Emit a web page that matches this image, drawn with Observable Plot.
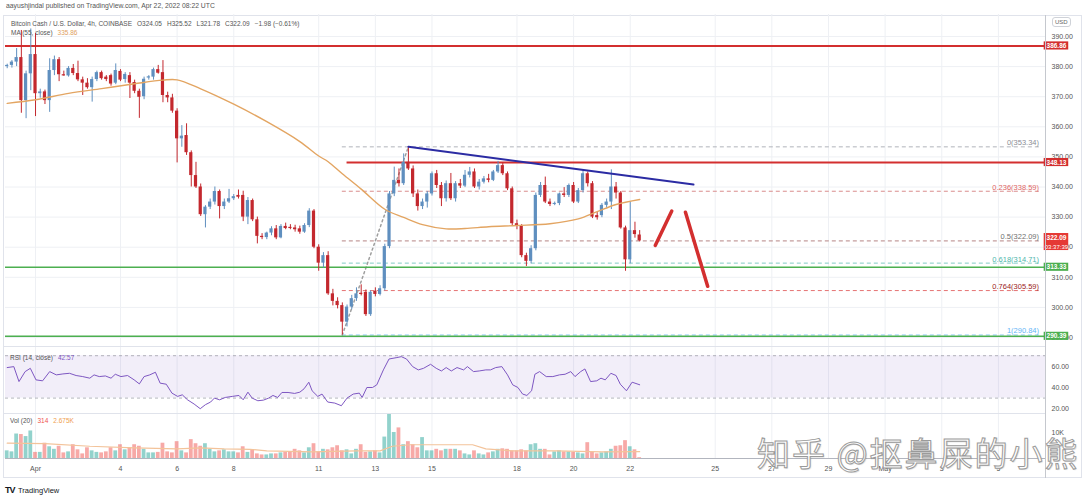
<!DOCTYPE html>
<html><head><meta charset="utf-8">
<script src="https://cdn.jsdelivr.net/npm/d3@7"></script>
<script src="https://cdn.jsdelivr.net/npm/@observablehq/plot@0.6"></script>
<style>
html,body{margin:0;padding:0;background:#fff;}
#wrap{position:relative;width:1085px;height:500px;overflow:hidden;font-family:"Liberation Sans",Arial,sans-serif;color:#555;}
.abs{position:absolute;white-space:nowrap;line-height:1;}
.pane{position:absolute;left:0;}
.lg{font-size:6.5px;}
.lg span{margin-left:5px;}
.lg span:first-child{margin-left:0;}
</style></head><body>
<div id="wrap">
 <div class="abs" style="left:6px;top:3px;font-size:6.8px;color:#555">aayushjindal published on TradingView.com, Apr 22, 2022 08:22 UTC</div>
 <div class="abs" style="left:3px;top:15px;width:1079px;height:463px;border:1px solid #e0e3eb;box-sizing:border-box"></div>
 <div id="price" class="pane" style="top:14px"></div>
 <div id="rsi" class="pane" style="top:346px"></div>
 <div id="vol" class="pane" style="top:413px"></div>
 <div class="abs" style="left:3px;top:346px;width:1042px;height:1px;background:#e0e3eb"></div>
 <div class="abs" style="left:3px;top:413px;width:1042px;height:1px;background:#e0e3eb"></div>
 <div class="abs" style="left:1045px;top:15px;width:1px;height:463px;background:#c5c8ce"></div>
 <div class="abs" style="left:1052px;top:17px;font-size:6px;color:#666;border:1px solid #cfd2d8;border-radius:3px;padding:1px 2px">USD</div>

 <div class="abs lg" style="left:11px;top:21px"><span>Bitcoin Cash / U.S. Dollar, 4h, COINBASE</span><span>O324.05</span><span>H325.52</span><span>L321.78</span><span>C322.09</span><span>−1.98 (−0.61%)</span></div>
 <div class="abs lg" style="left:11px;top:30px"><span>MA (55, close)</span><span style="color:#e0a060">335.86</span></div>

 <div class="abs lg" style="left:10px;top:355px"><span>RSI (14, close)</span><span style="color:#7e57c2">42.57</span></div>
 <div class="abs lg" style="left:10px;top:418px"><span>Vol (20)</span><span style="color:#ef5350">314</span><span style="color:#f0a050">2.675K</span></div>

 <div class="abs" style="left:757px;top:436px;font-family:'Noto Sans CJK SC',sans-serif;font-size:33px;letter-spacing:2px;color:#fff;-webkit-text-stroke:1px #9a9a9a;text-shadow:1px 1px 1px rgba(0,0,0,0.15)">知乎 @抠鼻屎的小熊</div>

 <div class="abs" style="left:5px;top:486px;font-size:9px;font-weight:bold;color:#131722;letter-spacing:-1px">TV</div>
 <div class="abs" style="left:18px;top:487px;font-size:7.5px;color:#131722">TradingView</div>
</div>
<script>
// ---- data (4h candles, index 0 = Mar 31 00:00 UTC) ----
const openP = [380.0,380.4,381.5,383.0,368.7,377.6,384.0,371.0,371.6,368.7,
378.7,382.3,377.3,376.9,379.4,377.7,375.6,374.5,373.0,375.7,
378.0,376.5,377.0,374.5,378.4,375.7,377.0,374.7,371.8,370.0,
376.2,376.5,379.0,378.0,370.4,369.6,365.2,356.0,357.1,351.4,
343.8,340.0,330.8,333.3,335.0,338.5,333.5,335.0,336.1,337.2,
337.2,330.0,335.5,329.1,323.6,323.2,324.7,326.1,323.1,326.9,
326.6,326.4,326.1,325.0,327.2,332.0,320.0,314.7,317.2,304.5,
302.0,300.6,295.1,300.1,302.9,304.7,305.0,297.6,305.4,304.3,
306.2,320.2,337.7,342.2,341.1,348.2,346.0,337.7,333.5,335.0,
337.7,344.4,340.5,336.1,341.1,336.1,341.1,340.3,343.9,345.0,
340.0,341.6,342.7,342.2,345.0,347.1,344.4,339.4,327.8,326.9,
317.2,315.3,319.5,337.2,340.5,335.0,334.2,334.5,337.7,337.2,
340.5,335.0,338.8,344.4,341.1,330.5,330.5,333.9,335.0,340.0,
338.0,326.4,315.8,325.5,324.05];
const highP = [380.8,382.0,386.0,392.0,378.5,392.5,391.0,372.5,372.2,382.6,
383.5,383.0,378.5,380.0,380.7,381.8,376.5,376.0,376.5,378.5,
378.5,377.0,377.5,380.9,379.0,378.0,378.0,375.5,372.5,376.5,
377.0,379.5,380.4,382.0,371.5,370.8,366.0,360.4,361.0,352.0,
348.2,341.0,333.8,336.0,340.0,339.0,336.0,339.2,337.5,339.0,
338.6,336.5,336.0,330.0,324.5,325.0,326.8,327.2,327.5,328.0,
327.5,327.3,327.0,327.8,332.8,332.5,320.8,318.2,318.5,306.0,
303.2,301.5,300.8,304.0,306.5,307.5,305.8,305.5,306.5,307.2,
321.0,338.5,346.6,346.0,351.0,353.34,347.0,339.0,336.0,338.5,
345.0,345.5,341.5,342.0,344.5,341.8,342.5,345.5,346.5,346.0,
342.5,343.5,344.2,345.5,348.5,348.0,345.0,340.0,329.0,327.5,
318.0,320.5,338.0,341.5,343.3,336.0,335.0,338.0,339.8,341.0,
341.5,339.5,345.5,345.0,341.8,331.5,334.5,336.0,345.7,341.5,
338.5,327.0,335.0,328.3,325.52];
const lowP = [379.3,379.5,380.0,364.5,362.7,372.0,363.4,369.5,367.4,364.8,
377.0,375.0,376.8,376.5,377.0,375.0,370.4,372.5,368.2,375.0,
375.5,375.0,373.5,374.0,375.0,374.5,369.4,371.0,362.8,369.0,
375.5,375.5,377.5,368.0,368.0,364.5,348.0,353.2,350.5,340.0,
339.5,330.2,326.4,332.5,334.0,329.4,332.5,334.5,335.5,336.0,
328.5,327.5,328.5,321.1,322.5,322.5,323.8,322.5,322.8,325.8,
325.8,325.0,324.3,324.6,326.5,319.5,312.0,313.0,304.0,300.5,
299.5,290.84,293.5,299.2,302.0,303.8,297.0,297.0,303.5,303.8,
305.5,319.5,336.8,340.0,340.5,345.5,336.5,332.0,332.5,333.0,
337.0,339.5,333.5,335.0,335.5,335.0,339.5,339.8,343.0,339.5,
339.0,341.0,341.4,341.8,344.5,343.8,338.8,327.0,325.8,316.5,
313.6,314.5,318.8,336.5,334.5,333.5,333.8,333.8,336.5,336.5,
334.5,334.5,338.0,340.0,329.5,329.0,329.8,333.0,332.5,336.0,
326.0,312.0,314.5,323.0,321.78];
const closeP = [380.4,381.5,383.0,368.7,377.6,384.0,371.0,371.6,368.7,378.7,
382.3,377.3,376.9,379.4,377.7,375.6,374.5,373.0,375.7,378.0,
376.0,375.7,374.2,378.7,375.5,377.4,374.5,371.8,369.8,375.8,
376.6,379.0,377.8,370.4,369.6,365.2,356.0,356.9,351.4,343.8,
340.0,330.8,333.3,335.0,338.5,333.5,335.0,336.1,336.8,336.6,
330.0,335.5,329.1,323.6,323.2,324.7,326.1,323.1,326.9,326.2,
326.2,325.8,325.0,327.2,332.0,320.0,314.7,317.2,304.5,302.0,
300.6,295.1,300.1,302.9,304.5,304.3,297.6,305.0,304.3,306.2,
320.2,337.7,342.2,341.1,348.2,346.0,337.7,333.5,335.0,337.7,
344.4,340.5,336.1,341.1,336.1,341.1,340.3,343.9,345.0,340.0,
341.6,342.7,342.2,345.0,347.1,344.4,339.4,327.8,326.9,317.2,
315.3,319.5,337.2,340.5,335.0,334.2,334.5,337.7,337.2,340.5,
335.0,338.8,344.4,341.1,330.0,329.8,333.9,335.0,340.0,338.0,
326.4,315.8,325.5,324.2,322.09];
const volK = [3.0,2.6,9.6,9.4,8.6,10.8,2.4,2.4,6.0,4.6,
3.6,4.8,2.2,2.6,5.4,3.4,1.8,4.2,3.0,2.4,
2.2,2.6,4.2,3.0,5.4,3.4,4.2,5.4,4.8,3.6,
2.2,2.2,2.4,6.0,2.6,2.2,6.6,3.0,2.2,7.4,
5.8,4.8,5.8,3.6,2.6,3.0,3.4,2.6,2.6,2.2,
4.6,2.4,3.4,1.8,1.4,1.4,1.8,1.8,
2.2,2.4,2.4,3.6,3.0,2.2,4.2,5.8,2.6,3.6,
3.4,4.2,5.0,3.0,3.4,1.8,3.6,5.4,2.4,2.6,
3.0,2.2,8.4,17.4,10.2,12.0,5.4,6.6,5.4,4.2,
8.2,3.0,3.0,3.6,3.0,3.6,3.6,3.6,3.0,1.8,
1.4,3.0,1.8,1.4,2.2,2.6,3.6,3.8,
3.6,3.0,3.0,3.4,3.0,5.4,5.8,3.6,3.6,1.4,
2.6,3.0,2.6,2.6,2.4,2.2,1.8,6.2,2.4,
1.8,2.2,2.6,3.6,4.8,5.0,7.0,4.6,3.4,0.314];

const maIdx = [0,6,13,20,27,33,36,41,48,55,62,66,68,71,75,80,84,88,93,97,102,108,115,121,125,129,134];
const maVal = [367.8,369.0,371.1,372.7,374.3,375.5,375.6,372.6,367.5,361.7,355.1,350.3,348.4,344.4,339.3,332.6,329.9,327.5,326.1,326.2,326.8,327.2,327.8,329.4,331.8,334.2,335.86];

const rsiIdx = [0,1.4,2.5,3.8,4.9,6.1,7.5,9.0,10.4,11.8,13.2,14.6,16.0,17.5,18.4,19.5,20.8,22.0,22.9,24.1,
25.5,26.9,28.0,29.0,30.2,31.4,32.4,33.7,34.9,36.1,37.1,38.2,39.6,40.9,42.0,43.1,43.9,45.0,46.2,47.7,
49.1,50.0,51.0,51.9,53.1,54.3,55.4,56.3,57.3,58.2,59.5,60.9,62.0,62.9,63.9,64.6,65.8,66.7,67.9,69.4,
70.8,72.0,73.3,74.6,75.2,76.2,77.4,78.3,79.7,80.9,82.4,83.5,84.6,85.9,87.1,88.2,89.7,90.9,92.0,93.0,
94.1,95.3,96.7,97.5,98.8,100.0,101.4,102.4,103.5,104.8,106.0,107.1,108.2,109.2,110.1,111.1,111.8,112.8,114.2,115.6,
117.0,118.2,119.4,120.3,121.5,122.4,123.6,124.9,125.8,126.7,127.9,129.0,129.9,131.2,132.4,134.0];
const rsiVal = [58.8,59.7,45.6,55.0,58.1,47.2,46.3,55.0,51.9,52.8,53.4,51.3,50.3,48.8,51.9,50.3,50.9,48.8,52.5,50.3,
51.3,47.2,43.4,50.3,51.9,54.4,44.1,43.1,34.7,31.6,33.1,28.4,24.4,20.0,23.8,26.3,30.0,28.4,30.6,31.6,
32.5,28.4,35.6,30.0,27.5,28.1,30.0,32.5,30.6,35.3,35.3,34.4,35.6,38.8,45.0,36.9,31.6,33.8,26.3,25.3,
22.8,30.0,33.8,34.7,30.6,40.0,40.0,42.5,56.6,66.9,68.1,69.1,66.9,59.7,56.6,58.1,61.9,58.1,55.6,58.8,
55.6,58.8,56.6,59.7,55.0,55.6,56.6,56.6,58.8,59.7,51.9,42.5,40.0,33.8,32.5,36.9,52.5,55.0,50.3,50.3,
51.9,52.5,55.0,50.3,55.0,57.5,45.6,46.3,48.8,47.2,53.4,51.3,43.1,36.9,45.0,42.57];

const vmaIdx = [0,8,17.5,27,36,41,46,51.5,55,64.6,74,79,81.6,85.4,93,98.6,101.4,107,116.5,126,134];
const vmaVal = [6.0,5.8,4.8,4.2,3.8,4.2,3.8,3.6,3.0,2.6,3.0,3.0,4.8,5.4,5.4,5.4,3.8,3.0,3.0,2.6,2.675];

const tickDays = [1,4,6,8,11,13,15,18,20,22,25,27,29,31,33,35];
const tickLabels = ["Apr","4","6","8","11","13","15","18","20","22","25","27","29","May","3","5"];
const priceTicks = [290,300,310,320,330,340,350,360,370,380,390];

const fibRatio = [0,0.236,0.5,0.618,0.764,1];
const fibValue = [353.34,338.59,322.09,314.71,305.59,290.84];
const fibLineColor = ["#b0b3ba","#d98c8c","#b58585","#80cbc4","#e57373","#90caf9"];
const fibTextColor = ["#8a8d94","#e06666","#6f6f6f","#4db6ac","#9b1c1c","#64b5f6"];
const fibSwingIdx = [71,85];
const fibSwingVal = [290.84,353.34];

const levelValue = [386.86,348.13,313.33,290.39];
const levelColor = ["#d32f2f","#d32f2f","#4caf50","#4caf50"];
const levelFromIdx = [null,72,null,null];
const lastPrice = 322.09;
const lastCountdown = "03:37:39";

const trendIdx = [85,145.4];
const trendVal = [353.34,340.8];
const arrowUpIdx = [137.3,140.8];
const arrowUpVal = [320.6,332.0];
const arrowDnIdx = [143.7,148.4];
const arrowDnVal = [331.6,307.0];

// ---- drawing ----
const X_DOMAIN = [-0.36, 219.98];
const AX_END = 218.9, BOX_X1 = 219.7, BOX_X2 = 224.9, BOX_XM = 222.3;
const UP = "#5f8fbf", DN = "#c3282e", GRID = "#eef0f4";
const tickIdx = tickDays.map(d => 6 * d);
const common = {width: 1085, marginLeft: 5, marginRight: 40,
  style: {fontFamily: '"Liberation Sans",Arial,sans-serif', fontSize: "7px", color: "#555", background: "transparent", overflow: "visible"}};

const candles = openP.map((o, i) => ({i, o, h: highP[i], l: lowP[i], c: closeP[i], v: volK[i], up: closeP[i] >= o}));
const ups = candles.filter(d => d.up), dns = candles.filter(d => !d.up);
const body = (data, color) => Plot.rect(data, {x1: d => d.i - 0.34, x2: d => d.i + 0.34,
  y1: d => Math.min(d.o, d.c), y2: d => Math.max(Math.max(d.o, d.c), Math.min(d.o, d.c) + 0.35), fill: color});
const wick = (data, color) => Plot.ruleX(data, {x: "i", y1: "l", y2: "h", stroke: color, strokeWidth: 1});
const pts = (xs, ys) => xs.map((x, k) => ({x, y: ys[k]}));

const fibMarks = fibValue.map((v, k) => [
  Plot.ruleY([v], {x1: fibSwingIdx[0], x2: AX_END, stroke: fibLineColor[k], strokeDasharray: "4,3", strokeWidth: 1}),
  Plot.text([v], {x: AX_END - 0.3, y: d => d, text: d => `${fibRatio[k]}(${d.toFixed(2)})`, textAnchor: "end", dy: -4, fill: fibTextColor[k], fontSize: 7.5})
]).flat();
const levelMarks = levelValue.map((v, k) => [
  Plot.ruleY([v], {x1: levelFromIdx[k] ?? X_DOMAIN[0], x2: X_DOMAIN[1], stroke: levelColor[k], strokeWidth: levelColor[k] === "#d32f2f" ? 2 : 1.5}),
  Plot.rect([v], {x1: BOX_X1, x2: BOX_X2, y1: d => d - 1.35, y2: d => d + 1.35, fill: levelColor[k]}),
  Plot.text([v], {x: BOX_XM, y: d => d, text: d => d.toFixed(2), fill: "white", fontSize: 6.5, fontWeight: "bold"})
]).flat();

const price = Plot.plot({...common, height: 332, marginTop: 0, marginBottom: 0,
  x: {domain: X_DOMAIN, axis: null},
  y: {domain: [287.01, 397.31], axis: "right", ticks: priceTicks, tickFormat: d => d.toFixed(2), tickSize: 0, tickPadding: 6, label: null},
  marks: [
    Plot.ruleX(tickIdx, {stroke: GRID}),
    Plot.ruleY(priceTicks, {stroke: GRID}),
    ...fibMarks.filter((m, j) => j % 2 === 0),
    Plot.line(pts(fibSwingIdx, fibSwingVal), {x: "x", y: "y", stroke: "#9e9e9e", strokeDasharray: "2,3"}),
    ...levelMarks.filter((m, j) => j % 3 === 0),
    wick(ups, UP), wick(dns, DN), body(ups, UP), body(dns, DN),
    Plot.line(pts(maIdx, maVal), {x: "x", y: "y", stroke: "#e3a562", strokeWidth: 1.4, curve: "catmull-rom"}),
    Plot.line(pts(trendIdx, trendVal), {x: "x", y: "y", stroke: "#2b2ba3", strokeWidth: 2}),
    Plot.line(pts(arrowUpIdx, arrowUpVal), {x: "x", y: "y", stroke: "#d32f2f", strokeWidth: 3.5}),
    Plot.line(pts(arrowDnIdx, arrowDnVal), {x: "x", y: "y", stroke: "#d32f2f", strokeWidth: 3.5}),
    ...fibMarks.filter((m, j) => j % 2 === 1),
    ...levelMarks.filter((m, j) => j % 3 !== 0),
    Plot.rect([lastPrice], {x1: BOX_X1, x2: BOX_X2, y1: d => d - 3.2, y2: d => d + 2.46, fill: "#e53935"}),
    Plot.text([lastPrice], {x: BOX_XM, y: d => d + 0.85, text: d => d.toFixed(2), fill: "white", fontSize: 6.5, fontWeight: "bold"}),
    Plot.text([lastPrice], {x: BOX_XM, y: d => d - 1.9, text: () => lastCountdown, fill: "white", fontSize: 6})
  ]});
document.getElementById("price").appendChild(price);

const rsi = Plot.plot({...common, height: 67, marginTop: 0, marginBottom: 0,
  x: {domain: X_DOMAIN, axis: null},
  y: {domain: [15.47, 78.68], axis: "right", ticks: [20, 40, 60], tickFormat: d => d.toFixed(2), tickSize: 0, tickPadding: 6, label: null},
  marks: [
    Plot.ruleX(tickIdx, {stroke: GRID}),
    Plot.rect([0], {x1: X_DOMAIN[0], x2: X_DOMAIN[1], y1: 30, y2: 70, fill: "#7e57c2", fillOpacity: 0.1}),
    Plot.ruleY([70, 30], {stroke: "#9598a1", strokeDasharray: "3,3", strokeOpacity: 0.7}),
    Plot.line(pts(rsiIdx, rsiVal), {x: "x", y: "y", stroke: "#7e57c2", strokeWidth: 1})
  ]});
document.getElementById("rsi").appendChild(rsi);

const vol = Plot.plot({...common, height: 65, marginTop: 0, marginBottom: 20,
  x: {domain: X_DOMAIN, axis: "bottom", ticks: tickIdx, tickFormat: d => tickLabels[tickIdx.indexOf(d)], tickSize: 0, tickPadding: 8, label: null},
  y: {domain: [0, 17.65], axis: "right", ticks: [10], tickFormat: d => d + "K", tickSize: 0, tickPadding: 6, label: null},
  marks: [
    Plot.ruleX(tickIdx, {stroke: GRID}),
    Plot.ruleY([0], {stroke: "#b2b5be"}),
    Plot.rectY(ups, {x1: d => d.i - 0.4, x2: d => d.i + 0.4, y: "v", fill: "rgba(38,166,154,0.5)"}),
    Plot.rectY(dns, {x1: d => d.i - 0.4, x2: d => d.i + 0.4, y: "v", fill: "rgba(239,83,80,0.5)"}),
    Plot.line(pts(vmaIdx, vmaVal), {x: "x", y: "y", stroke: "#f3c39a", strokeWidth: 1.2})
  ]});
document.getElementById("vol").appendChild(vol);
</script>
</body></html>
